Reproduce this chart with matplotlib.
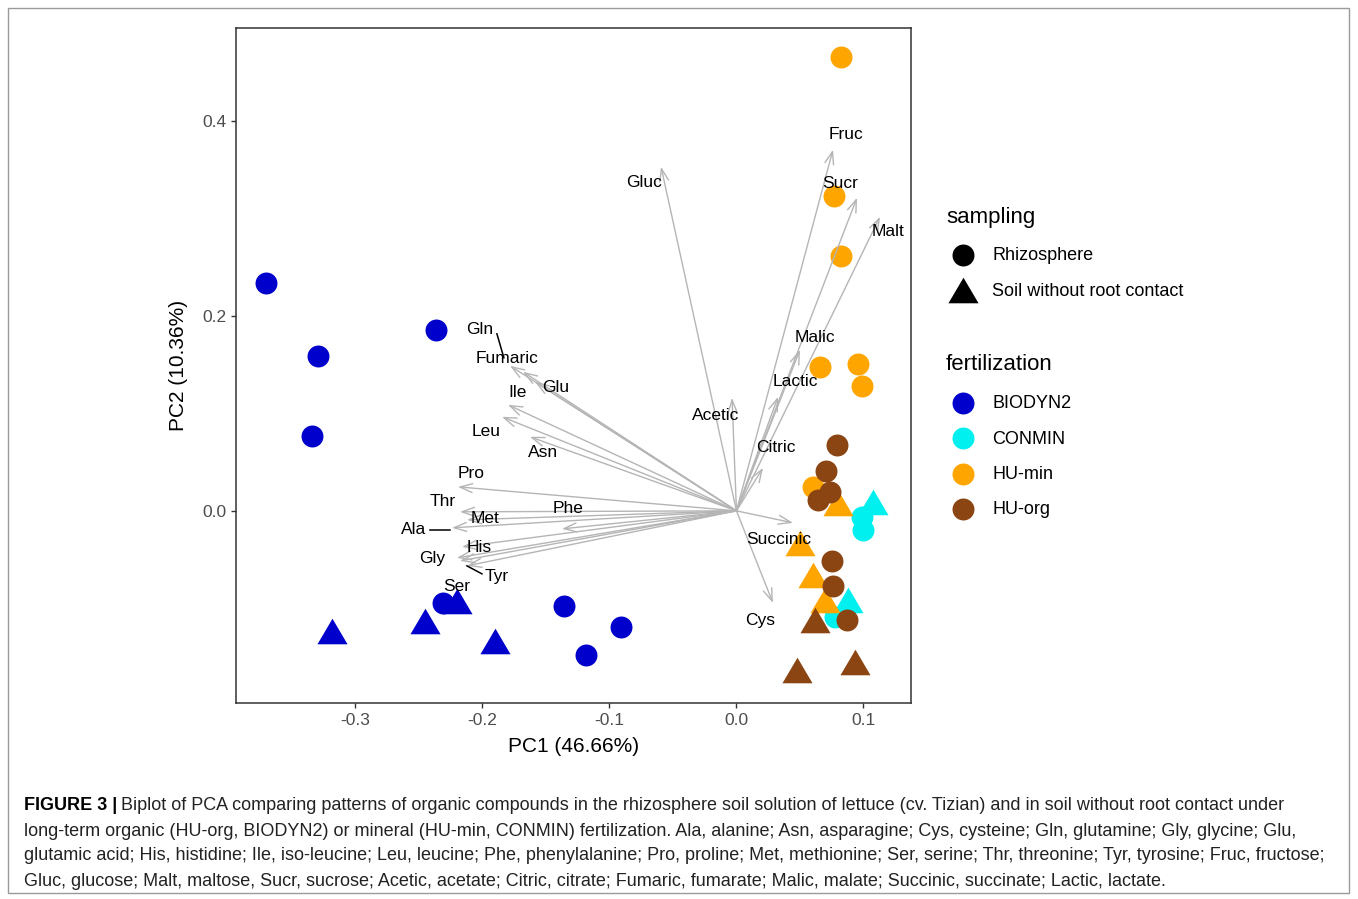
import matplotlib
matplotlib.use("Agg")
import matplotlib.pyplot as plt
from matplotlib.patches import Rectangle
import numpy as np

# scores des individus (PC1, PC2)
fert = (["BIODYN2"] * 12 + ["HU-min"] * 11 + ["HU-org"] * 10 + ["CONMIN"] * 5)
samp = (["R"] * 8 + ["S"] * 4 + ["R"] * 7 + ["S"] * 4 + ["R"] * 7 + ["S"] * 3
        + ["S", "R", "R", "S", "R"])
pc1 = [-0.3705, -0.3295, -0.3343, -0.2366, -0.2311, -0.1358, -0.0909, -0.1185,
       -0.3185, -0.2453, -0.2201, -0.1902,
       0.0823, 0.0768, 0.0823, 0.0657, 0.0957, 0.0988, 0.0602,
       0.0799, 0.0500, 0.0602, 0.0697,
       0.0790, 0.0705, 0.0642, 0.0736, 0.0752, 0.0760, 0.0870,
       0.0618, 0.0476, 0.0933,
       0.1075, 0.0988, 0.0996, 0.0878, 0.0776]
pc2 = [0.2338, 0.1590, 0.0769, 0.1856, -0.0944, -0.0974, -0.1190, -0.1477,
       -0.1230, -0.1128, -0.0923, -0.1333,
       0.4656, 0.3231, 0.2615, 0.1477, 0.1508, 0.1282, 0.0246,
       0.0082, -0.0328, -0.0656, -0.0913,
       0.0677, 0.0410, 0.0113, 0.0195, -0.0513, -0.0769, -0.1118,
       -0.1118, -0.1631, -0.1549,
       0.0092, -0.0062, -0.0195, -0.0913, -0.1087]

# variables (fleches)
var_names = ["Gluc", "Fruc", "Sucr", "Malt", "Malic", "Lactic", "Acetic", "Citric",
             "Succinic", "Cys", "Gln", "Fumaric", "Glu", "Ile", "Leu", "Asn", "Pro",
             "Thr", "Met", "Phe", "Ala", "His", "Gly", "Tyr", "Ser"]
var_x = [-0.0594, 0.0760, 0.0949, 0.1130, 0.0500, 0.0327, -0.0035, 0.0209,
         0.0445, 0.0287, -0.1783, -0.1681, -0.1587, -0.1799, -0.1846, -0.1626, -0.2193,
         -0.2177, -0.2122, -0.1374, -0.2240, -0.2161, -0.2201, -0.2122, -0.2177]
var_y = [0.3528, 0.3703, 0.3210, 0.3015, 0.1651, 0.1169, 0.1159, 0.0441,
         -0.0123, -0.0944, 0.1487, 0.1426, 0.1323, 0.1087, 0.0964, 0.0759, 0.0246,
         -0.0010, -0.0092, -0.0185, -0.0174, -0.0369, -0.0482, -0.0564, -0.0513]
# position des etiquettes (repel)
lab_x = [-0.0728, 0.0862, 0.0815, 0.1193, 0.0618, 0.0461, -0.0161, 0.0311,
         0.0335, 0.0185, -0.2020, -0.1807, -0.1421, -0.1720, -0.1972, -0.1524, -0.2091,
         -0.2311, -0.1980, -0.1327, -0.2539, -0.2028, -0.2398, -0.1886, -0.2201]
lab_y = [0.3364, 0.3856, 0.3354, 0.2862, 0.1774, 0.1323, 0.0974, 0.0646,
         -0.0297, -0.1128, 0.1856, 0.1559, 0.1262, 0.1210, 0.0810, 0.0595, 0.0379,
         0.0092, -0.0082, 0.0021, -0.0195, -0.0379, -0.0492, -0.0677, -0.0779]
# segments etiquette -> fleche
seg = {"Gln": ((-0.1886, 0.1815), (-0.1831, 0.1569)),
       "Ala": ((-0.2413, -0.0195), (-0.2256, -0.0195)),
       "Tyr": ((-0.2122, -0.0564), (-0.2004, -0.0646))}

couleurs = {"BIODYN2": "#0000CD", "CONMIN": "#00F0F0", "HU-min": "#FFA500", "HU-org": "#8B4513"}
ordre = ["BIODYN2", "CONMIN", "HU-min", "HU-org"]
tri = [(0, 0.85), (-1, -0.85), (1, -0.85)]
formes = {"R": ("o", 250), "S": (tri, 470)}

plt.rcParams['font.family'] = ['Liberation Sans', 'DejaVu Sans']

fig = plt.figure(figsize=(13.58, 8.99), dpi=100)
ax = fig.add_axes([236 / 1358, 1 - 703 / 899, 675 / 1358, 675 / 899])

pc1 = np.array(pc1)
pc2 = np.array(pc2)
fert = np.array(fert)
samp = np.array(samp)
for f in ordre:
    for s in ["R", "S"]:
        m = (fert == f) & (samp == s)
        if m.any():
            ax.scatter(pc1[m], pc2[m], marker=formes[s][0], s=formes[s][1],
                       color=couleurs[f], linewidths=0, zorder=2)

for i, n in enumerate(var_names):
    ax.annotate("", xy=(var_x[i], var_y[i]), xytext=(0, 0),
                arrowprops=dict(arrowstyle="->,head_length=0.9,head_width=0.32",
                                color="#B5B5B5", lw=1.0, shrinkA=0, shrinkB=0),
                zorder=3)
for i, n in enumerate(var_names):
    ax.text(lab_x[i], lab_y[i], n, fontsize=12.5, ha="center", va="center", zorder=4)
for n, (p0, p1) in seg.items():
    ax.plot([p0[0], p1[0]], [p0[1], p1[1]], color="black", lw=1.1, zorder=4)

ax.set_xlim(-0.394, 0.1374)
ax.set_ylim(-0.197, 0.495)
ax.set_xticks([-0.3, -0.2, -0.1, 0.0, 0.1])
ax.set_xticklabels(["-0.3", "-0.2", "-0.1", "0.0", "0.1"])
ax.set_yticks([0.0, 0.2, 0.4])
ax.set_yticklabels(["0.0", "0.2", "0.4"])
ax.tick_params(colors="#333333", labelcolor="#4D4D4D", labelsize=12.5, length=3.5, width=1)
for sp in ax.spines.values():
    sp.set_color("#333333")
    sp.set_linewidth(1.1)
ax.set_xlabel("PC1 (46.66%)", fontsize=15, labelpad=7)
ax.set_ylabel("PC2 (10.36%)", fontsize=15, labelpad=10)

# legende + legende de figure, en pixels
ov = fig.add_axes([0, 0, 1, 1], zorder=-1)
ov.set_xlim(0, 1358)
ov.set_ylim(899, 0)
ov.axis("off")
ov.add_patch(Rectangle((8, 8), 1341, 885, fill=False, edgecolor="#9A9A9A", lw=1))

ov.text(946, 217, "sampling", fontsize=16, va="center")
ov.scatter([963], [255], marker="o", s=250, color="black", linewidths=0)
ov.scatter([963], [290], marker=tri, s=470, color="black", linewidths=0)
ov.text(992, 256, "Rhizosphere", fontsize=13, va="center")
ov.text(992, 291, "Soil without root contact", fontsize=13, va="center")

ov.text(946, 364, "fertilization", fontsize=16, va="center")
for k, f in enumerate(ordre):
    yy = 403 + k * 35.3
    ov.scatter([963], [yy], marker="o", s=250, color=couleurs[f], linewidths=0)
    ov.text(992, yy + 1, f, fontsize=13, va="center")

lignes = [
    "Biplot of PCA comparing patterns of organic compounds in the rhizosphere soil solution of lettuce (cv. Tizian) and in soil without root contact under",
    "long-term organic (HU-org, BIODYN2) or mineral (HU-min, CONMIN) fertilization. Ala, alanine; Asn, asparagine; Cys, cysteine; Gln, glutamine; Gly, glycine; Glu,",
    "glutamic acid; His, histidine; Ile, iso-leucine; Leu, leucine; Phe, phenylalanine; Pro, proline; Met, methionine; Ser, serine; Thr, threonine; Tyr, tyrosine; Fruc, fructose;",
    "Gluc, glucose; Malt, maltose, Sucr, sucrose; Acetic, acetate; Citric, citrate; Fumaric, fumarate; Malic, malate; Succinic, succinate; Lactic, lactate.",
]
cap_font = ['Liberation Sans Narrow', 'Liberation Sans']
t0 = ov.text(24, 806, "FIGURE 3 |", fontsize=13, fontweight="bold", va="center", family=cap_font)
fig.canvas.draw()
bb = t0.get_window_extent()
x1 = bb.x1 + 4
ov.text(x1, 806, lignes[0], fontsize=13, va="center", family=cap_font, color="#222222")
for j in range(1, 4):
    ov.text(24, 806 + 25 * j, lignes[j], fontsize=13, va="center", family=cap_font, color="#222222")

fig.savefig("out.png", dpi=100)
